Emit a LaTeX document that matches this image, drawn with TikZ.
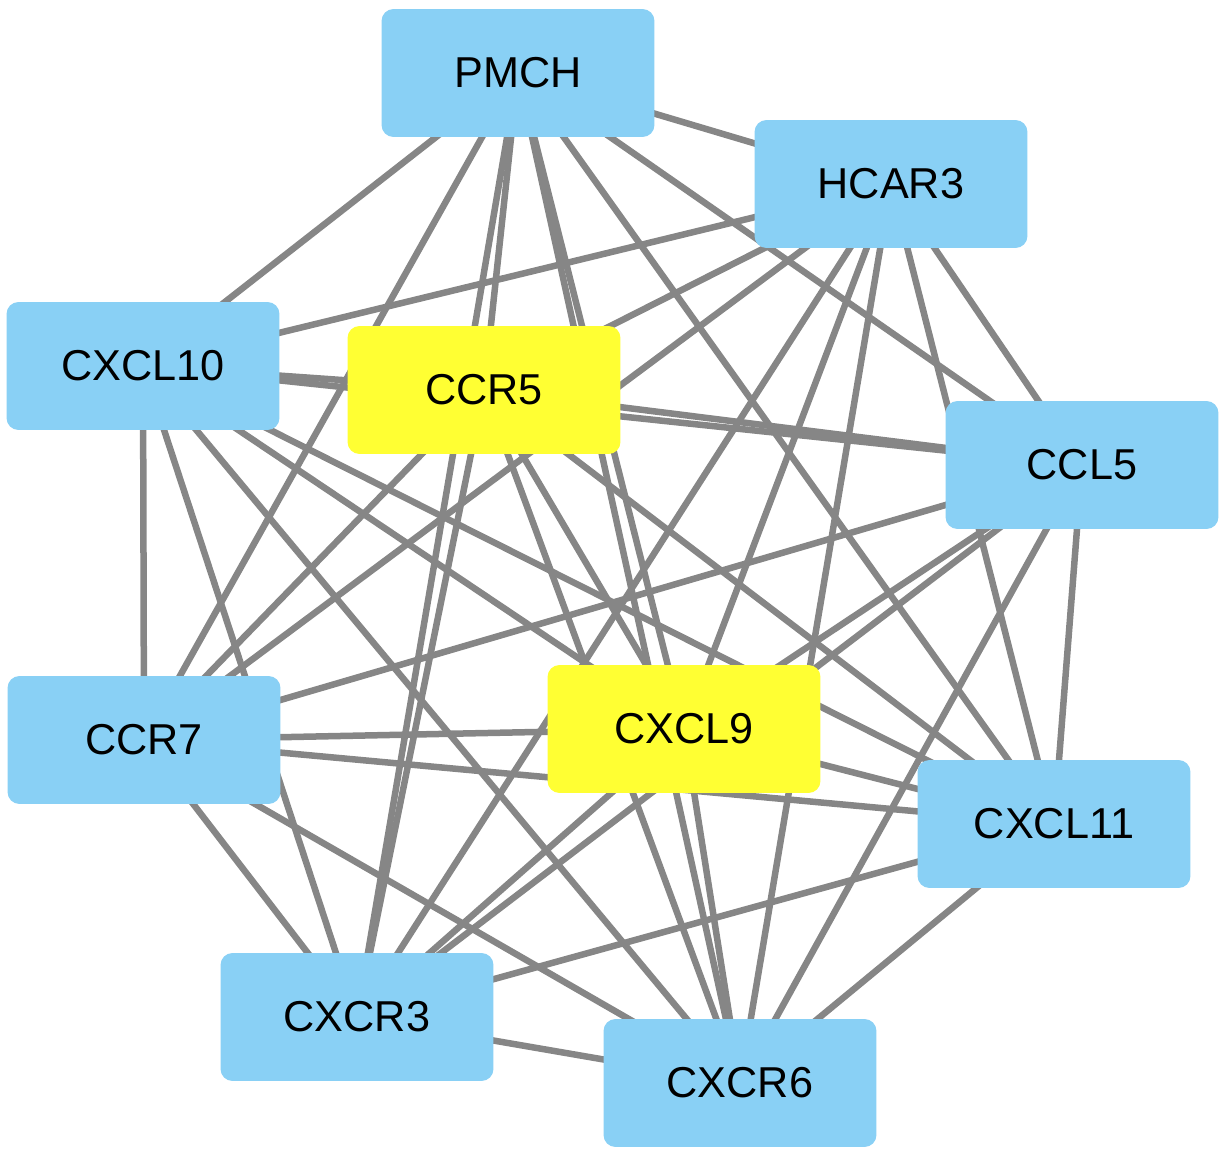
\documentclass[tikz,border=0pt]{standalone}
\usepackage{fontspec}
\setmainfont{Liberation Sans}
\usetikzlibrary{backgrounds}
\definecolor{genefill}{HTML}{89D0F5}
\definecolor{hubfill}{HTML}{FFFF33}
\definecolor{edgegray}{HTML}{868686}
\tikzset{
  gene/.style={rectangle, rounded corners=0.24cm, fill=genefill, draw=none,
               minimum width=5.46cm, minimum height=2.56cm, inner sep=0pt,
               font=\fontsize{24.6}{28}\selectfont, text=black},
  hub/.style={gene, fill=hubfill},
  link/.style={line width=3.7pt, draw=edgegray},
}
\def\px{0.02cm}

\begin{document}
\begin{tikzpicture}[x=\px, y=-\px]
\useasboundingbox (0,0) rectangle (1225,1149);

% Genes (hubs in yellow)
\node[gene] (pmch)   at (518,73)    {PMCH};
\node[gene] (hcar3)  at (891,184)   {HCAR3};
\node[gene] (cxcl10) at (143,366)   {CXCL10};
\node[hub]  (ccr5)   at (484,390)   {CCR5};
\node[gene] (ccl5)   at (1082,465)  {CCL5};
\node[gene] (ccr7)   at (144,740)   {CCR7};
\node[hub]  (cxcl9)  at (684,729)   {CXCL9};
\node[gene] (cxcl11) at (1054,824)  {CXCL11};
\node[gene] (cxcr3)  at (357,1017)  {CXCR3};
\node[gene] (cxcr6)  at (740,1083)  {CXCR6};

% Interactions: every pair is linked
\begin{scope}[on background layer]
  \foreach \a [count=\i] in {pmch, hcar3, cxcl10, ccr5, ccl5, ccr7, cxcl9, cxcl11, cxcr3, cxcr6} {
    \foreach \b [count=\j] in {pmch, hcar3, cxcl10, ccr5, ccl5, ccr7, cxcl9, cxcl11, cxcr3, cxcr6} {
      \ifnum\i<\j
        \draw[link] (\a.center) -- (\b.center);
      \fi
    }
  }
\end{scope}

\end{tikzpicture}
\end{document}
